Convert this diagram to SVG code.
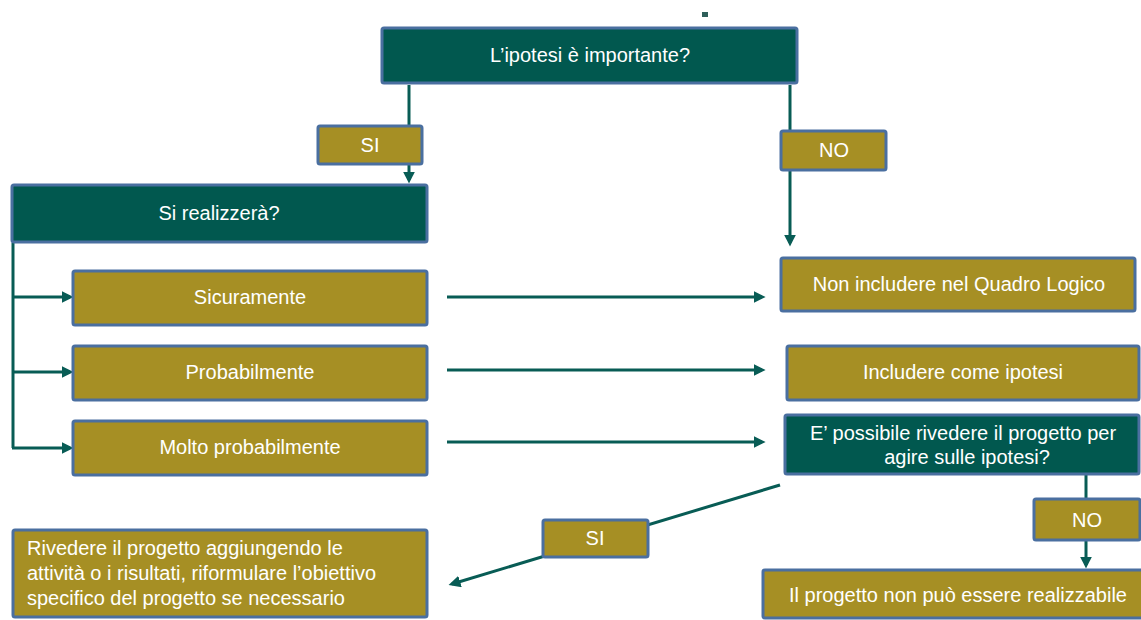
<svg xmlns="http://www.w3.org/2000/svg" width="1141" height="620" viewBox="0 0 1141 620">
<style>
.box{stroke:#4a6fa0;stroke-width:3}
.dark{fill:#01584f}
.gold{fill:#a68f24}
.t{font-family:"Liberation Sans",Arial,sans-serif;font-size:20px;fill:#ffffff}
.c{text-anchor:middle}
.con{stroke:#085c55;stroke-width:3;fill:none}
</style>
<defs>
<marker id="ah" markerUnits="userSpaceOnUse" markerWidth="12" markerHeight="12" viewBox="0 0 10 10" refX="7" refY="5" orient="auto">
<path d="M0,0 L10,5 L0,10 z" fill="#085c55"/>
</marker>
</defs>
<rect x="702" y="12" width="6" height="5" fill="#2f5f5a"/>
<g id="connectors">
<line class="con" x1="409" y1="85" x2="409" y2="180" marker-end="url(#ah)"/>
<line class="con" x1="790" y1="85" x2="790" y2="243" marker-end="url(#ah)"/>
<polyline class="con" points="13,243 13,448"/>
<line class="con" x1="12" y1="297" x2="70" y2="297" marker-end="url(#ah)"/>
<line class="con" x1="12" y1="372" x2="70" y2="372" marker-end="url(#ah)"/>
<line class="con" x1="12" y1="448" x2="70" y2="448" marker-end="url(#ah)"/>
<line class="con" x1="447" y1="297" x2="762" y2="297" marker-end="url(#ah)"/>
<line class="con" x1="447" y1="370" x2="762" y2="370" marker-end="url(#ah)"/>
<line class="con" x1="447" y1="442" x2="762" y2="442" marker-end="url(#ah)"/>
<line class="con" x1="780" y1="485" x2="452" y2="584" marker-end="url(#ah)"/>
<line class="con" x1="1086" y1="475" x2="1086" y2="565" marker-end="url(#ah)"/>
</g>
<g id="n_importante">
<rect class="box dark" x="382" y="28" width="415" height="55" rx="2"/>
<text class="t c" x="590" y="62">L’ipotesi è importante?</text>
</g>
<g id="n_si1">
<rect class="box gold" x="318" y="126" width="104" height="38" rx="2"/>
<text class="t c" x="370" y="152">SI</text>
</g>
<g id="n_no1">
<rect class="box gold" x="781" y="131" width="105" height="39" rx="2"/>
<text class="t c" x="834" y="157">NO</text>
</g>
<g id="n_realizzera">
<rect class="box dark" x="12" y="185" width="415" height="57" rx="2"/>
<text class="t c" x="219" y="220">Si realizzerà?</text>
</g>
<g id="n_sicuramente">
<rect class="box gold" x="73" y="271" width="354" height="54" rx="2"/>
<text class="t c" x="250" y="304">Sicuramente</text>
</g>
<g id="n_probabilmente">
<rect class="box gold" x="73" y="346" width="354" height="54" rx="2"/>
<text class="t c" x="250" y="379">Probabilmente</text>
</g>
<g id="n_molto">
<rect class="box gold" x="73" y="421" width="354" height="54" rx="2"/>
<text class="t c" x="250" y="454">Molto probabilmente</text>
</g>
<g id="n_non_includere">
<rect class="box gold" x="781" y="258" width="354" height="53" rx="2"/>
<text class="t c" x="959" y="291">Non includere nel Quadro Logico</text>
</g>
<g id="n_includere">
<rect class="box gold" x="787" y="346" width="352" height="54" rx="2"/>
<text class="t c" x="963" y="379">Includere come ipotesi</text>
</g>
<g id="n_possibile">
<rect class="box dark" x="785" y="415" width="354" height="59" rx="2"/>
<text class="t c" x="963" y="440">E’ possibile rivedere il progetto per</text>
<text class="t c" x="967" y="464">agire sulle ipotesi?</text>
</g>
<g id="n_si2">
<rect class="box gold" x="543" y="520" width="105" height="37" rx="2"/>
<text class="t c" x="595" y="545">SI</text>
</g>
<g id="n_no2">
<rect class="box gold" x="1034" y="499" width="106" height="41" rx="2"/>
<text class="t c" x="1087" y="527">NO</text>
</g>
<g id="n_rivedere">
<rect class="box gold" x="13" y="530" width="414" height="87" rx="2"/>
<text class="t" x="27" y="555">Rivedere il progetto aggiungendo le</text>
<text class="t" x="27" y="580">attività o i risultati, riformulare l’obiettivo</text>
<text class="t" x="27" y="605">specifico del progetto se necessario</text>
</g>
<g id="n_non_realizzabile">
<rect class="box gold" x="763" y="570" width="380" height="48" rx="2"/>
<text class="t c" x="958" y="602">Il progetto non può essere realizzabile</text>
</g>
</svg>
